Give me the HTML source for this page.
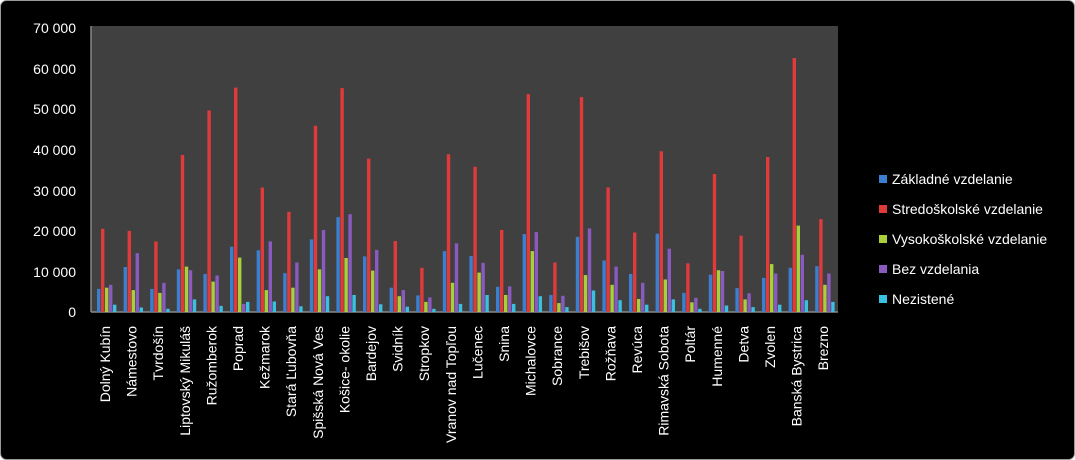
<!DOCTYPE html>
<html><head><meta charset="utf-8"><style>
html,body{margin:0;padding:0;background:#fff;}
svg{display:block;font-family:"Liberation Sans",sans-serif;}
</style></head><body>
<svg id="c" width="1075" height="460" xmlns="http://www.w3.org/2000/svg">
<rect x="0.5" y="0.5" width="1074" height="459" rx="6" fill="#000" stroke="#9a9a9a"/>
<rect x="91" y="26" width="747" height="286" fill="#404040"/>
<line x1="91" y1="26" x2="91" y2="312" stroke="#888" stroke-width="1.5"/>
<line x1="91" y1="312" x2="838" y2="312" stroke="#888" stroke-width="1.5"/>
<g id="bars"></g>
<g fill="#fff" font-size="14" text-anchor="end">
<text x="76" y="317">0</text>
<text x="76" y="277">10 000</text>
<text x="76" y="236">20 000</text>
<text x="76" y="196">30 000</text>
<text x="76" y="155">40 000</text>
<text x="76" y="114">50 000</text>
<text x="76" y="74">60 000</text>
<text x="76" y="33">70 000</text>
</g>
<g fill="#fff" font-size="14" text-anchor="end">
<text transform="translate(110,326) rotate(-90)">Dolný Kubín</text>
<text transform="translate(136.6,326) rotate(-90)">Námestovo</text>
<text transform="translate(163.2,326) rotate(-90)">Tvrdošín</text>
<text transform="translate(189.8,326) rotate(-90)">Liptovský Mikuláš</text>
<text transform="translate(216.4,326) rotate(-90)">Ružomberok</text>
<text transform="translate(243,326) rotate(-90)">Poprad</text>
<text transform="translate(269.6,326) rotate(-90)">Kežmarok</text>
<text transform="translate(296.2,326) rotate(-90)">Stará Ľubovňa</text>
<text transform="translate(322.8,326) rotate(-90)">Spišská Nová Ves</text>
<text transform="translate(349.4,326) rotate(-90)">Košice- okolie</text>
<text transform="translate(376,326) rotate(-90)">Bardejov</text>
<text transform="translate(402.6,326) rotate(-90)">Svidník</text>
<text transform="translate(429.2,326) rotate(-90)">Stropkov</text>
<text transform="translate(455.8,326) rotate(-90)">Vranov nad Topľou</text>
<text transform="translate(482.4,326) rotate(-90)">Lučenec</text>
<text transform="translate(509,326) rotate(-90)">Snina</text>
<text transform="translate(535.6,326) rotate(-90)">Michalovce</text>
<text transform="translate(562.2,326) rotate(-90)">Sobrance</text>
<text transform="translate(588.8,326) rotate(-90)">Trebišov</text>
<text transform="translate(615.4,326) rotate(-90)">Rožňava</text>
<text transform="translate(642,326) rotate(-90)">Revúca</text>
<text transform="translate(668.6,326) rotate(-90)">Rimavská Sobota</text>
<text transform="translate(695.2,326) rotate(-90)">Poltár</text>
<text transform="translate(721.8,326) rotate(-90)">Humenné</text>
<text transform="translate(748.4,326) rotate(-90)">Detva</text>
<text transform="translate(775,326) rotate(-90)">Zvolen</text>
<text transform="translate(801.6,326) rotate(-90)">Banská Bystrica</text>
<text transform="translate(828.2,326) rotate(-90)">Brezno</text>
</g>
<g font-size="14" fill="#fff">
<rect x="879" y="175" width="8" height="8" fill="#3a7fd0"/><text x="892" y="184">Základné vzdelanie</text>
<rect x="879" y="205" width="8" height="8" fill="#e03a3a"/><text x="892" y="214">Stredoškolské vzdelanie</text>
<rect x="879" y="235" width="8" height="8" fill="#a8d03a"/><text x="892" y="244">Vysokoškolské vzdelanie</text>
<rect x="879" y="265" width="8" height="8" fill="#8a5ac0"/><text x="892" y="274">Bez vzdelania</text>
<rect x="879" y="295" width="8" height="8" fill="#3ac0e0"/><text x="892" y="304">Nezistené</text>
</g>
</svg>
<script>
var d=[[5.7,20.5,6,6.7,1.8],[11.1,20,5.4,14.5,1.1],[5.7,17.4,4.7,7.2,0.8],[10.5,38.7,11.2,10.3,3.1],[9.4,49.7,7.5,9,1.5],[16.1,55.3,13.4,2,2.5],[15.2,30.7,5.4,17.4,2.6],[9.6,24.7,6,12.2,1.4],[17.9,45.9,10.5,20.2,3.9],[23.4,55.2,13.3,24.1,4.2],[13.7,37.8,10.2,15.3,1.9],[6,17.5,3.9,5.4,1.3],[4.1,10.9,2.5,3.6,0.8],[15,38.9,7.2,16.9,2],[13.8,35.8,9.7,12.1,4.2],[6.2,20.2,4.2,6.3,2],[19.2,53.7,15,19.7,3.9],[4.2,12.2,2.2,4,1.2],[18.5,53,9.1,20.6,5.3],[12.7,30.7,6.7,11.2,2.9],[9.4,19.6,3.2,7.2,1.8],[19.3,39.6,8,15.6,3.1],[4.7,12,2.4,3.5,0.8],[9.2,34,10.3,10.1,1.6],[5.9,18.8,3.1,4.6,1.2],[8.4,38.2,11.8,9.5,1.8],[10.9,62.6,21.3,14.1,2.9],[11.3,22.9,6.7,9.5,2.5]];
var col=["#3a7fd0","#e03a3a","#a8d03a","#8a5ac0","#3ac0e0"];
var g=document.getElementById("bars"),s="";
for(var k=0;k<d.length;k++){for(var j=0;j<5;j++){var x=97+k*26.6+j*4,h=d[k][j]*4.057;s+='<rect x="'+x.toFixed(1)+'" y="'+(312-h).toFixed(1)+'" width="3.4" height="'+h.toFixed(1)+'" fill="'+col[j]+'"/>';}}
g.innerHTML=s;
</script>
</body></html>
